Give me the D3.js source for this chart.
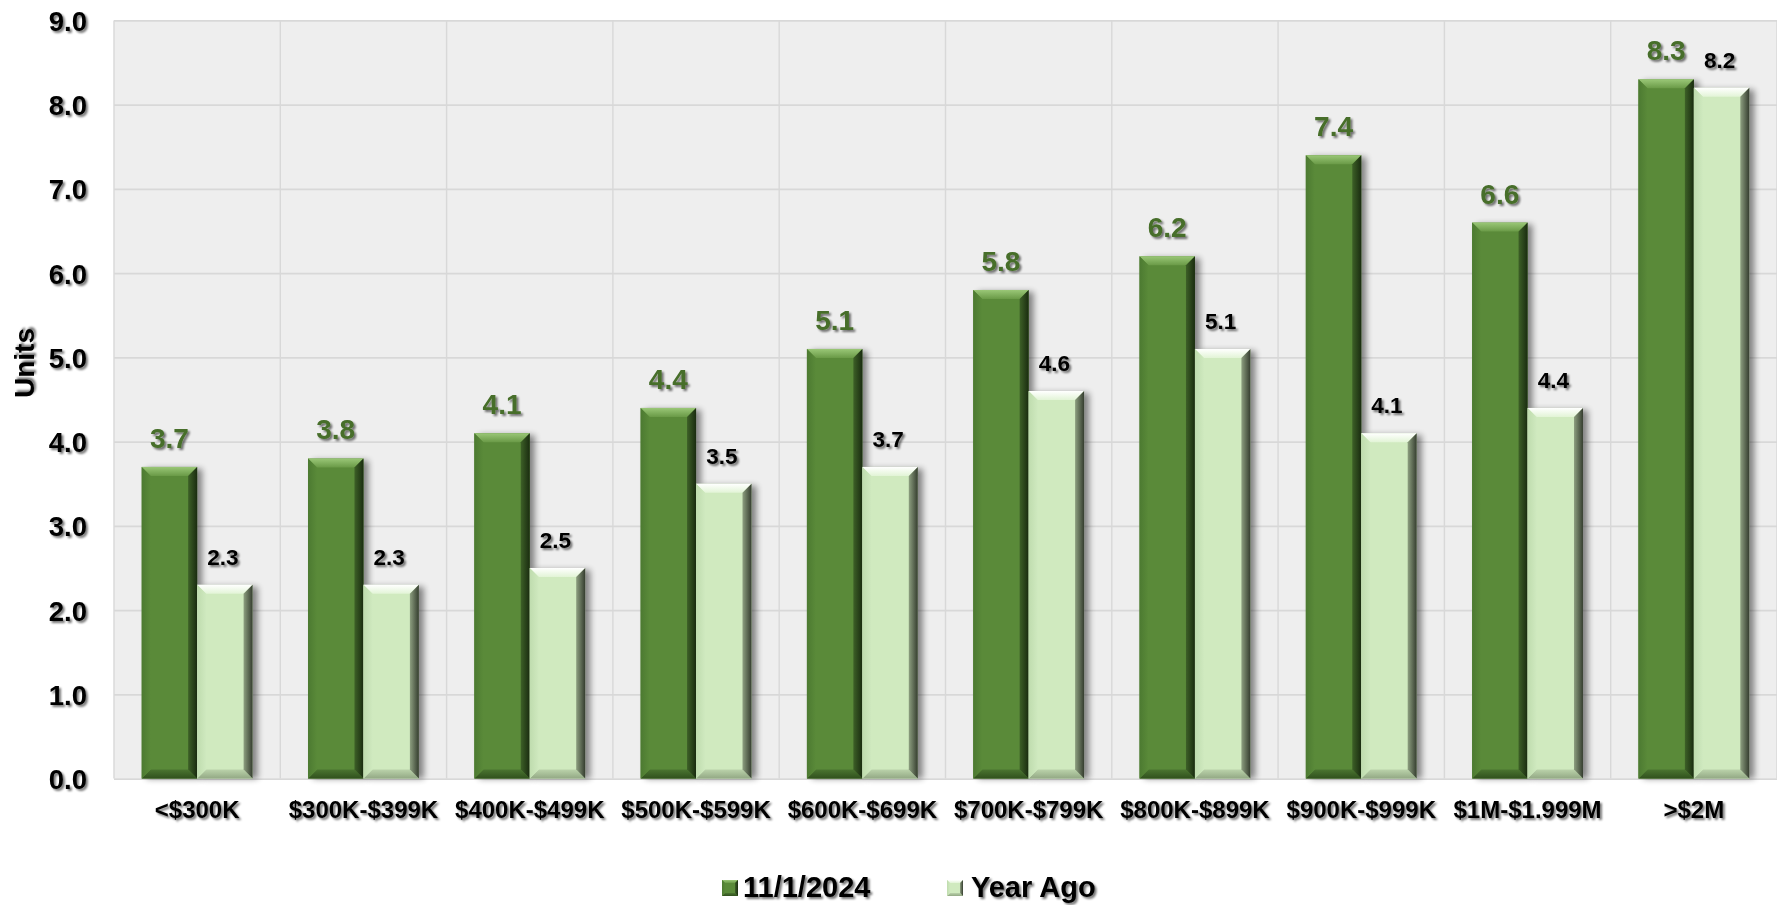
<!DOCTYPE html>
<html>
<head>
<meta charset="utf-8">
<script src="https://cdn.jsdelivr.net/npm/d3@7"></script>
<style>
  html, body { margin: 0; padding: 0; background: #ffffff; }
  svg { display: block; font-family: "Liberation Sans", Arial, sans-serif; }
</style>
</head>
<body>
<svg id="chart" width="1777" height="905"></svg>
<script>
// Price ranges and the two inventory series
const categories = ["<$300K", "$300K-$399K", "$400K-$499K", "$500K-$599K", "$600K-$699K",
                    "$700K-$799K", "$800K-$899K", "$900K-$999K", "$1M-$1.999M", ">$2M"];
const current = [3.7, 3.8, 4.1, 4.4, 5.1, 5.8, 6.2, 7.4, 6.6, 8.3];
const yearAgo = [2.3, 2.3, 2.5, 3.5, 3.7, 4.6, 5.1, 4.1, 4.4, 8.2];
const seriesNames = ["11/1/2024", "Year Ago"];
const yTicks = [0, 1, 2, 3, 4, 5, 6, 7, 8, 9];
const yLabel = "Units";

const plot = { left: 114, right: 1777, top: 20.4, bottom: 778.6 };

const svg = d3.select("#chart");
const defs = svg.append("defs");

// Soft gray shadow behind text
const ts = defs.append("filter").attr("id", "textShadow")
  .attr("x", "-20%").attr("y", "-20%").attr("width", "150%").attr("height", "160%");
ts.append("feGaussianBlur").attr("in", "SourceAlpha").attr("stdDeviation", 1.3).attr("result", "blur");
ts.append("feOffset").attr("in", "blur").attr("dx", 2).attr("dy", 2.2).attr("result", "off");
ts.append("feComponentTransfer").attr("in", "off").attr("result", "soft")
  .append("feFuncA").attr("type", "linear").attr("slope", 0.55);
const tm = ts.append("feMerge");
tm.append("feMergeNode").attr("in", "soft");
tm.append("feMergeNode").attr("in", "SourceGraphic");

// Blur for the bar drop shadows
defs.append("filter").attr("id", "barShadow")
  .attr("x", "-50%").attr("y", "-10%").attr("width", "200%").attr("height", "120%")
  .append("feGaussianBlur").attr("stdDeviation", 3.2);

// Bevel styles for each series
const styles = {
  dark: {
    face: "#5a8a39",
    top: ["#9ac777", "#6a9a47"],
    bottom: ["#4a7430", "#30501d"],
    left: ["#4c7a31", "#5a8a39"],
    right: ["#3d6027", "#1a2c10"]
  },
  light: {
    face: "#d0eabf",
    top: ["#ffffff", "#e2f4d6"],
    bottom: ["#bad2aa", "#92a884"],
    left: ["#bfdcae", "#cfe9bf"],
    right: ["#8d9f80", "#353d2f"]
  }
};

function addGrad(id, c0, c1, horizontal) {
  const g = defs.append("linearGradient").attr("id", id)
    .attr("x1", 0).attr("y1", 0)
    .attr("x2", horizontal ? 1 : 0).attr("y2", horizontal ? 0 : 1);
  g.append("stop").attr("offset", "0%").attr("stop-color", c0);
  g.append("stop").attr("offset", "100%").attr("stop-color", c1);
}
Object.entries(styles).forEach(([k, s]) => {
  addGrad(k + "-top", s.top[0], s.top[1], false);
  addGrad(k + "-bottom", s.bottom[0], s.bottom[1], false);
  addGrad(k + "-left", s.left[0], s.left[1], true);
  addGrad(k + "-right", s.right[0], s.right[1], true);
});

// Draws a beveled bar: a flat face framed by four shaded edge facets
function bevelBar(g, x, y, w, h, key, b) {
  const s = styles[key];
  b = Math.min(b, w / 2, h / 2);
  const pts = a => a.map(p => p.join(",")).join(" ");
  g.append("rect").attr("x", x).attr("y", y).attr("width", w).attr("height", h).attr("fill", s.face);
  g.append("polygon").attr("fill", `url(#${key}-top)`)
    .attr("points", pts([[x, y], [x + w, y], [x + w - b, y + b], [x + b, y + b]]));
  g.append("polygon").attr("fill", `url(#${key}-bottom)`)
    .attr("points", pts([[x + b, y + h - b], [x + w - b, y + h - b], [x + w, y + h], [x, y + h]]));
  g.append("polygon").attr("fill", `url(#${key}-left)`)
    .attr("points", pts([[x, y], [x + b, y + b], [x + b, y + h - b], [x, y + h]]));
  g.append("polygon").attr("fill", `url(#${key}-right)`)
    .attr("points", pts([[x + w - b, y + b], [x + w, y], [x + w, y + h], [x + w - b, y + h - b]]));
}

// Scales
const x = d3.scaleBand().domain(categories).range([plot.left, plot.right]).paddingInner(0).paddingOuter(0);
const xs = d3.scaleBand().domain(seriesNames).range([0, x.bandwidth()]).paddingInner(0).paddingOuter(0.5);
const y = d3.scaleLinear().domain([0, 9]).range([plot.bottom, plot.top]);

// Plot background
svg.append("rect")
  .attr("x", plot.left).attr("y", plot.top)
  .attr("width", plot.right - plot.left).attr("height", plot.bottom - plot.top)
  .attr("fill", "#eeeeee");

// Horizontal gridlines
const gridY = svg.append("g").attr("transform", `translate(${plot.left},0)`)
  .call(d3.axisLeft(y).tickValues(yTicks).tickSize(-(plot.right - plot.left)).tickFormat(""));
gridY.select(".domain").remove();
gridY.selectAll("line").attr("stroke", "#d8d8d8").attr("stroke-width", 1.6);

// Vertical gridlines at category boundaries
const bounds = categories.map(c => x(c)).concat([plot.right]);
svg.append("g").selectAll("line").data(bounds).join("line")
  .attr("x1", d => d).attr("x2", d => d)
  .attr("y1", plot.top).attr("y2", plot.bottom)
  .attr("stroke", "#d8d8d8").attr("stroke-width", 1.4);

// Y axis labels
const yAxis = svg.append("g").attr("transform", `translate(87,0)`)
  .call(d3.axisLeft(y).tickValues(yTicks).tickSize(0).tickPadding(0).tickFormat(d3.format(".1f")));
yAxis.select(".domain").remove();
yAxis.selectAll("text")
  .attr("font-family", "'Liberation Sans', Arial, sans-serif")
  .attr("font-size", 27.5).attr("font-weight", "bold").attr("fill", "#000")
  .attr("dy", "0.36em")
  .attr("filter", "url(#textShadow)");

// X axis labels
const xAxis = svg.append("g").attr("transform", `translate(0,${plot.bottom})`)
  .call(d3.axisBottom(x).tickSize(0).tickPadding(0));
xAxis.select(".domain").remove();
xAxis.selectAll("text")
  .attr("font-family", "'Liberation Sans', Arial, sans-serif")
  .attr("font-size", 24).attr("font-weight", "bold").attr("fill", "#000")
  .attr("y", 39).attr("dy", 0)
  .attr("filter", "url(#textShadow)");

// Bars
const rows = categories.map((c, i) => ({ c, vals: [current[i], yearAgo[i]] }));
const barW = xs.bandwidth();
const keys = ["dark", "light"];
const barsG = svg.append("g");
rows.forEach(r => {
  r.vals.forEach((v, j) => {
    const bx = x(r.c) + xs(seriesNames[j]);
    const by = y(v);
    const bh = y(0) - y(v);
    barsG.append("rect")
      .attr("x", bx + 5).attr("y", by + 2).attr("width", barW).attr("height", bh - 2)
      .attr("fill", "#000").attr("opacity", 0.45).attr("filter", "url(#barShadow)");
    bevelBar(barsG.append("g"), bx, by, barW, bh, keys[j], 9);
  });
});

// Value labels
const labelG = svg.append("g").attr("filter", "url(#textShadow)");
rows.forEach(r => {
  const bx0 = x(r.c) + xs(seriesNames[0]) + barW / 2;
  const bx1 = x(r.c) + xs(seriesNames[1]) + barW / 2;
  labelG.append("text")
    .attr("x", bx0).attr("y", y(r.vals[0]) - 19)
    .attr("text-anchor", "middle")
    .attr("font-size", 28).attr("font-weight", "bold").attr("fill", "#466e29")
    .text(d3.format(".1f")(r.vals[0]));
  labelG.append("text")
    .attr("x", bx1 - 2).attr("y", y(r.vals[1]) - 20)
    .attr("text-anchor", "middle")
    .attr("font-size", 22.5).attr("font-weight", "bold").attr("fill", "#000")
    .text(d3.format(".1f")(r.vals[1]));
});

// Y axis title
svg.append("text")
  .attr("transform", "translate(34,363) rotate(-90)")
  .attr("text-anchor", "middle")
  .attr("font-size", 28).attr("font-weight", "bold").attr("fill", "#000")
  .attr("filter", "url(#textShadow)")
  .text(yLabel);

// Legend
const legendPos = [{ ix: 722, tx: 743 }, { ix: 947, tx: 971 }];
const legend = svg.append("g");
seriesNames.forEach((name, j) => {
  const p = legendPos[j];
  bevelBar(legend.append("g"), p.ix, 880, 16, 16, keys[j], 3);
  legend.append("text")
    .attr("x", p.tx).attr("y", 897)
    .attr("font-size", 29).attr("font-weight", "bold").attr("fill", "#000")
    .attr("filter", "url(#textShadow)")
    .text(name);
});
</script>
</body>
</html>
